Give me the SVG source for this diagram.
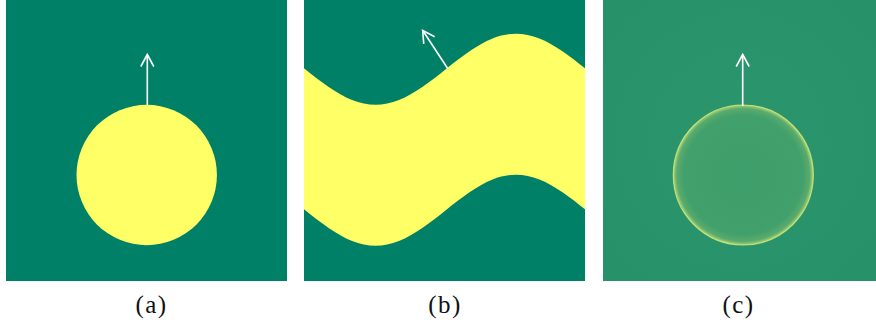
<svg xmlns="http://www.w3.org/2000/svg" xmlns:xlink="http://www.w3.org/1999/xlink" width="876" height="329" viewBox="0 0 876 329">
<style>
.bg{fill:#008066}
.yl{fill:#ffff66}
.arr{stroke:#ffffff;stroke-width:1.6;fill:none;marker-end:url(#head)}
.lbl{font-family:"Liberation Serif","Times New Roman",serif;font-size:25px;letter-spacing:1.5px;fill:#111111;text-anchor:middle}
</style>
<defs>
<marker id="head" markerUnits="userSpaceOnUse" markerWidth="20" markerHeight="20" viewBox="-14 -10 16 20" refX="0" refY="0" orient="auto">
<path d="M-12,-6.5 L0,0 L-12,6.5" fill="none" stroke="#ffffff" stroke-width="1.6" stroke-linejoin="miter"/>
</marker>
<clipPath id="clipB"><rect x="304" y="0" width="281" height="281"/></clipPath>
<path id="wave" d="M281.83,51.55 C289.64,56.92 297.44,63.10 305.25,69.3 C313.06,75.50 320.86,81.68 328.67,87.05 C336.48,92.42 344.27,96.94 352.08,100.04 C359.89,103.14 367.69,104.8 375.5,104.8 C383.31,104.8 391.11,103.14 398.92,100.04 C406.73,96.94 414.52,92.42 422.33,87.05 C430.14,81.68 437.94,75.50 445.75,69.3 C453.56,63.10 461.36,56.92 469.17,51.55 C476.98,46.18 484.77,41.66 492.58,38.56 C500.39,35.46 508.19,33.8 516,33.8 C523.81,33.8 531.61,35.46 539.42,38.56 C547.23,41.66 555.02,46.18 562.83,51.55 C570.64,56.92 578.44,63.10 586.25,69.3 C594.06,75.50 601.86,81.68 609.67,87.05 L609.67,300 L281.83,300 Z"/>
<radialGradient id="gC" cx="0.5" cy="0.5" r="0.7">
<stop offset="0" stop-color="#2b966c"/>
<stop offset="1" stop-color="#27926a"/>
</radialGradient>
<radialGradient id="gDisk" cx="0.5" cy="0.5" r="0.5">
<stop offset="0" stop-color="#3e9e6b"/>
<stop offset="0.85" stop-color="#41a06b"/>
<stop offset="0.95" stop-color="#5aab6d"/>
<stop offset="1" stop-color="#a8d473"/>
</radialGradient>
</defs>

<g id="panel-a">
<rect class="bg" x="6" y="0" width="281" height="281"/>
<circle class="yl" cx="146.7" cy="175" r="70.2"/>
<text class="lbl" x="151.5" y="313">(a)</text>
</g>

<g id="panel-b">
<rect class="bg" x="304" y="0" width="281" height="281"/>
<g clip-path="url(#clipB)">
<use xlink:href="#wave" class="yl"/>
<use xlink:href="#wave" class="bg" transform="translate(0,141)"/>
</g>
<text class="lbl" x="445" y="313">(b)</text>
</g>

<g id="panel-c">
<rect x="603" y="0" width="273" height="281" fill="url(#gC)"/>
<circle cx="743.3" cy="175" r="70" fill="url(#gDisk)" stroke="#d2e77a" stroke-width="1.2" stroke-opacity="0.85"/>
<text class="lbl" x="738.5" y="313">(c)</text>
</g>

<g id="connectors">
<line class="arr" x1="147.3" y1="105" x2="147.3" y2="54.5"/>
<line class="arr" x1="447.7" y1="68.5" x2="422.6" y2="30.3"/>
<line class="arr" x1="742.7" y1="106" x2="742.7" y2="54.5"/>
</g>
</svg>
